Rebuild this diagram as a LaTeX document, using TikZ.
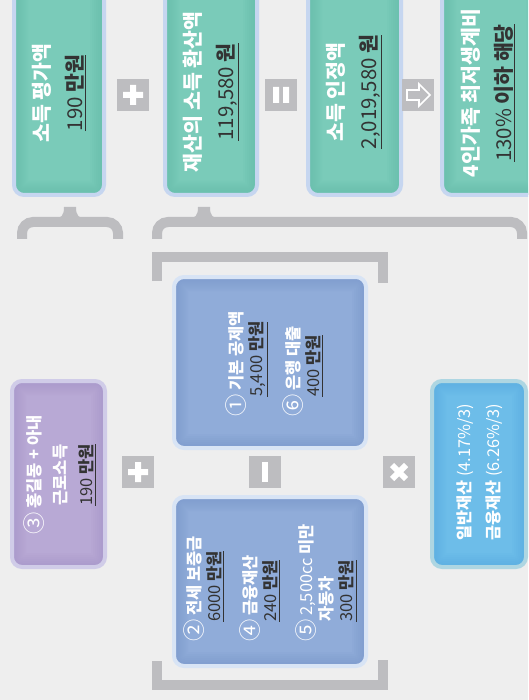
\documentclass[tikz,border=0pt]{standalone}
\usepackage{fontspec}
\setmainfont{Noto Sans CJK KR}
\definecolor{bgc}{HTML}{EEEEEE}
\definecolor{tealF}{HTML}{7ACBB9}
\definecolor{tealS}{HTML}{5AB5A3}
\definecolor{tealB}{HTML}{C6D6F0}
\definecolor{blueF}{HTML}{90ACD9}
\definecolor{blueS}{HTML}{6F8FC6}
\definecolor{blueB}{HTML}{D8E4F5}
\definecolor{purpF}{HTML}{B8A9D5}
\definecolor{purpS}{HTML}{9D8AC3}
\definecolor{purpB}{HTML}{D0CCE8}
\definecolor{lbluF}{HTML}{6DBDE9}
\definecolor{lbluS}{HTML}{4EA6DC}
\definecolor{lbluB}{HTML}{AED6E2}
\definecolor{iconG}{HTML}{BDBDC0}
\definecolor{darkT}{HTML}{333333}
\newcommand\valu[1]{\textcolor{darkT}{\mdseries\underline{#1}}}
\newcommand\cnum[1]{\raisebox{-0.12em}{\scalebox{1.35}{\mdseries #1}}}
% #1 fill, #2 shade, #3 border, (#4,#5) corner, (#6,#7) corner
\newcommand\softbox[7]{%
  \fill[#1, rounded corners=10pt] (#4,#5) rectangle (#6,#7);
  \begin{scope}
    \clip[rounded corners=10pt] (#4,#5) rectangle (#6,#7);
    \foreach \w in {28,24,20,16,12,8} {
      \draw[#2, opacity=.07, line width=\w pt, rounded corners=10pt] (#4,#5) rectangle (#6,#7);
    }
  \end{scope}
  \draw[#3, line width=4pt, rounded corners=10pt] (#4,#5) rectangle (#6,#7);
}
\tikzset{
  ttext/.style={rotate=90, align=center, text=white, inner sep=0pt, font=\fontsize{20.5}{33}\selectfont\bfseries},
  btext/.style={rotate=90, align=left, text=white, inner sep=0pt, font=\fontsize{16.5}{20}\selectfont\bfseries},
  ptext/.style={rotate=90, align=center, text=white, inner sep=0pt, font=\fontsize{16.5}{26}\selectfont\bfseries},
  ltext/.style={rotate=90, align=center, text=white, inner sep=0pt, font=\fontsize{16.3}{29}\selectfont},
  iconbox/.style={fill=iconG, minimum width=32pt, minimum height=32pt, inner sep=0pt},
  brc/.style={draw=iconG, line width=10pt},
}
\begin{document}
\begin{tikzpicture}[x=1pt,y=-1pt]
\useasboundingbox (0,0) rectangle (528,700);
\fill[bgc] (0,0) rectangle (528,700);
\begin{scope}
\clip (0,0) rectangle (528,700);
% top row boxes
\softbox{tealF}{tealS}{tealB}{14}{-20}{104}{195}
\softbox{tealF}{tealS}{tealB}{165}{-20}{257}{195}
\softbox{tealF}{tealS}{tealB}{308}{-20}{401}{195}
\softbox{tealF}{tealS}{tealB}{442}{-20}{540}{195}
% lower boxes
\softbox{blueF}{blueS}{blueB}{174}{277}{366}{448}
\softbox{blueF}{blueS}{blueB}{174}{497}{366}{666}
\softbox{purpF}{purpS}{purpB}{12}{381}{105}{567}
\softbox{lbluF}{lbluS}{lbluB}{432}{381}{526}{567}
% braces
\draw[brc, rounded corners=11pt] (22,239) |- (70,222) -| (118,239);
\fill[iconG] (52,219) .. controls (62,219) and (64,215) .. (64,207) -- (76,207)
   .. controls (76,215) and (78,219) .. (88,219) -- (88,223) -- (52,223) -- cycle;
\draw[brc, rounded corners=11pt] (157,239) |- (300,222) -| (522,239);
\fill[iconG] (186,219) .. controls (196,219) and (198,215) .. (198,207) -- (210,207)
   .. controls (210,215) and (212,219) .. (222,219) -- (222,223) -- (186,223) -- cycle;
% brackets
\draw[brc] (156.5,281) |- (383,257) -- (383,283);
\draw[brc] (156.5,661) |- (383,685) -- (383,660);
\end{scope}
% icons
\node[iconbox] (plus1) at (133,95) {};
\fill[white] (123,92) rectangle (143,98) (130,85) rectangle (136,105);
\node[iconbox] (eq) at (281,95) {};
\fill[white] (273,87) rectangle (279,103) (283,87) rectangle (289,103);
\node[iconbox] (arr) at (418,95) {};
\draw[white, line width=1.6pt, line join=miter] (407,90) -- (419,90) -- (419,84) -- (430,95) -- (419,106) -- (419,100) -- (407,100) -- cycle;
\node[iconbox] (plus2) at (138,472) {};
\fill[white] (128,469) rectangle (148,475) (135,462) rectangle (141,482);
\node[iconbox] (minus) at (265,472) {};
\fill[white] (262,462) rectangle (268,482);
\node[iconbox] (times) at (399,472) {};
\draw[white, line width=6pt] (392,465) -- (406,479) (392,479) -- (406,465);
% texts
\node[ttext] (t1) at (59,93) {소득 평가액\\\valu{190 \textbf{만원}}};
\node[ttext] (t2) at (211,92) {재산의 소득 환산액\\\valu{119,580 \textbf{원}}};
\node[ttext] (t3) at (354,92) {소득 인정액\\\valu{2,019,580 \textbf{원}}};
\node[ttext] (t4) at (488,93) {4인가족 최저생계비\\\valu{130\% \textbf{이하 해당}}};
\node[btext] (ta) at (274,364) {\cnum{①} 기본 공제액\\\hspace*{20pt}\valu{5,400 \textbf{만원}}\\[14pt]\cnum{⑥} 은행 대출\\\hspace*{20pt}\valu{400 \textbf{만원}}};
\node[btext] (tb) at (270,583) {\cnum{②} 전세 보증금\\\hspace*{20pt}\valu{6000 \textbf{만원}}\\[15pt]\cnum{④} 금융재산\\\hspace*{20pt}\valu{240 \textbf{만원}}\\[15pt]\cnum{⑤} {\mdseries 2,500cc} 미만\\\hspace*{20pt}자동차\\\hspace*{20pt}\valu{300 \textbf{만원}}};
\node[ptext] (tp) at (60,475) {\cnum{③} 홍길동 + 아내\\근로소득\\\valu{190 \textbf{만원}}};
\node[ltext] (tl) at (480,472) {\textbf{일반재산} (4.17\%/3)\\\textbf{금융재산} (6.26\%/3)};
\end{tikzpicture}
\end{document}
